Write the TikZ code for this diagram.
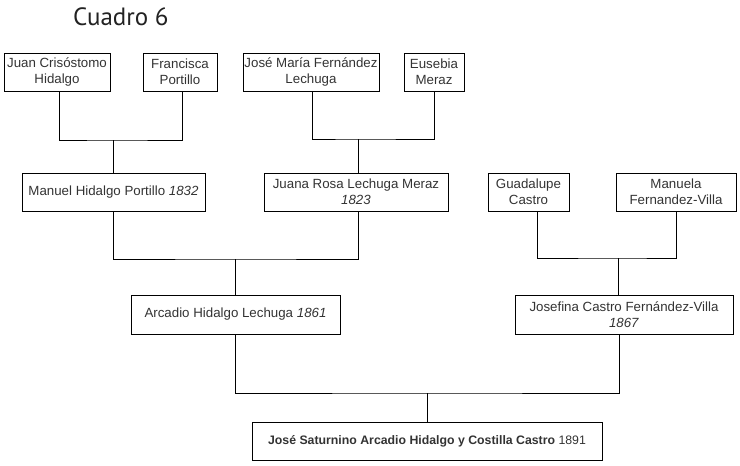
\documentclass[tikz,border=0pt]{standalone}
\usepackage{fontspec}
\setmainfont{Liberation Sans}
\newfontfamily\titlefont{PT Sans}
\definecolor{txt}{HTML}{333333}
\definecolor{ttl}{HTML}{222222}
\begin{document}
\begin{tikzpicture}[x=1pt,y=-1pt,
  person/.style={draw=black, line width=0.9pt, inner sep=0pt, align=center,
    text=txt, font=\fontsize{13.3}{16}\selectfont},
  link/.style={draw=black, line width=0.9pt}]
\useasboundingbox (0,0) rectangle (740,466);
\node[anchor=base west, text=ttl, font=\titlefont\fontsize{25}{30}\selectfont, inner sep=0pt] (title) at (73,25) {Cuadro 6};

% generation 1
\node[person, minimum width=106, minimum height=38] (jch) at (57,72) {Juan Crisóstomo\\Hidalgo};
\node[person, minimum width=74, minimum height=38] (fp) at (180,72) {Francisca\\Portillo};
\node[person, minimum width=136, minimum height=38] (jmf) at (311,72) {José María Fernández\\Lechuga};
\node[person, minimum width=60, minimum height=38] (em) at (434,72) {Eusebia\\Meraz};
% generation 2
\node[person, minimum width=183, minimum height=38] (mhp) at (113.5,192) {Manuel Hidalgo Portillo \textit{1832}};
\node[person, minimum width=184, minimum height=38] (jrl) at (356,192) {Juana Rosa Lechuga Meraz\\\textit{1823}};
\node[person, minimum width=81, minimum height=38] (gc) at (528.5,192) {Guadalupe\\Castro};
\node[person, minimum width=120, minimum height=38] (mfv) at (676,192) {Manuela\\Fernandez-Villa};
% generation 3
\node[person, minimum width=209, minimum height=39] (ahl) at (235.5,314.5) {Arcadio Hidalgo Lechuga \textit{1861}};
\node[person, minimum width=218, minimum height=39] (jcf) at (624,314.5) {Josefina Castro Fernández-Villa\\\textit{1867}};
% generation 4
\node[person, minimum width=350, minimum height=38, font=\fontsize{12.3}{15}\selectfont] (jsa) at (427,441) {\textbf{José Saturnino Arcadio Hidalgo y Costilla Castro} 1891};

% junction points
\coordinate (j1) at (mhp.north |- 0,140);
\coordinate (j2) at ([xshift=2]jrl.north |- 0,139);
\coordinate (j3) at (ahl.north |- 0,259);
\coordinate (j4) at ([xshift=-6]jcf.north |- 0,258);
\coordinate (j5) at (jsa.north |- 0,393);

\draw[link] ([xshift=2]jch.south) |- (j1) -| ([xshift=2]fp.south);
\draw[link] (j1) -- (mhp.north);
\draw[link] ([xshift=1]jmf.south) |- (j2) -| (em.south);
\draw[link] (j2) -- ([xshift=2]jrl.north);
\draw[link] (mhp.south) |- (j3) -| ([xshift=2]jrl.south);
\draw[link] (j3) -- (ahl.north);
\draw[link] ([xshift=8.5]gc.south) |- (j4) -| (mfv.south);
\draw[link] (j4) -- ([xshift=-6]jcf.north);
\draw[link] (ahl.south) |- (j5) -| ([xshift=-5]jcf.south);
\draw[link] (j5) -- (jsa.north);
\end{tikzpicture}
\end{document}
